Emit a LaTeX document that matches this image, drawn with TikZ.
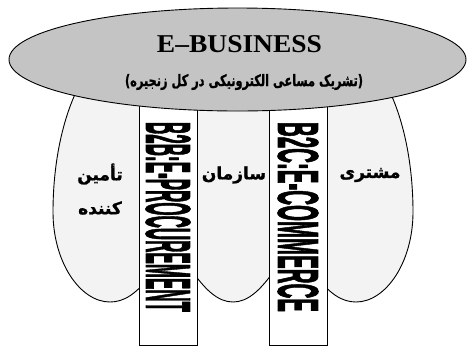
\documentclass[tikz,border=0pt]{standalone}
\usepackage{fontspec}
\setmainfont{Liberation Serif}
\setsansfont{Liberation Sans}
\newfontfamily\arabicfont[Script=Arabic]{DejaVu Sans}
\newfontfamily\arabicheavy[Script=Arabic,FakeBold=1.2]{DejaVu Sans}
\newfontfamily\stripfont[FakeBold=2]{Liberation Sans}
\TeXXeTstate=1
\usetikzlibrary{shapes.geometric}
\definecolor{ovalgray}{RGB}{196,196,196}
\definecolor{lobegray}{RGB}{243,243,243}
\begin{document}
\begin{tikzpicture}[x=1pt,y=-1pt,
  lobe/.style={fill=lobegray, draw=black, line width=0.9pt},
  bar/.style={fill=white, draw=black, line width=0.7pt, rotate=-90, minimum height=58pt, minimum width=256pt, inner sep=0pt},
  oval/.style={ellipse, fill=ovalgray, draw=black, line width=0.9pt, minimum width=457pt, minimum height=103pt, inner sep=0pt},
  lbl/.style={font=\arabicheavy\bfseries\fontsize{17}{19}\selectfont, inner sep=0pt}]
\useasboundingbox (0,0) rectangle (468,346);
% lobes
\draw[lobe] (80,84) .. controls (62,118) and (53,165) .. (53,212)
  .. controls (53,262) and (80,302) .. (110,302)
  .. controls (124,302) and (136,294) .. (150,276) -- (160,84) -- cycle;
\draw[lobe] (386,84) .. controls (404,118) and (413,165) .. (413,212)
  .. controls (413,262) and (386,302) .. (356,302)
  .. controls (342,302) and (330,294) .. (316,276) -- (306,84) -- cycle;
\draw[lobe] (190,90) -- (190,268) .. controls (205,290) and (218,302) .. (233,302)
  .. controls (248,302) and (261,290) .. (276,268) -- (276,90) -- cycle;
% strips
\node[bar] (b2b) at (168,217) {\resizebox{190pt}{44pt}{\stripfont\bfseries B2B:E-PROCUREMENT}};
\node[bar] (b2c) at (298,217) {\resizebox{190pt}{40pt}{\stripfont\bfseries B2C:E-COMMERCE}};
% top oval
\node[oval] (eb) at (237.5,59.5) {};
\node[inner sep=0pt] (title) at (239.5,44.5) {\resizebox{165pt}{17pt}{\bfseries E–BUSINESS}};
\node[inner sep=0pt] (sub) at (244,82) {\resizebox{238pt}{!}{\scalebox{1}[1.4]{\arabicheavy\bfseries\beginR(تشریک مساعی الکترونیکی در کل زنجیره)\endR}}};
% labels
\node[lbl] (supp1) at (100,174) {\beginR تأمین\endR};
\node[lbl] (supp2) at (100,208) {\beginR کننده\endR};
\node[lbl] (org) at (234,175) {\beginR سازمان\endR};
\node[lbl] (cust) at (370,175) {\beginR مشتری\endR};
\end{tikzpicture}
\end{document}
